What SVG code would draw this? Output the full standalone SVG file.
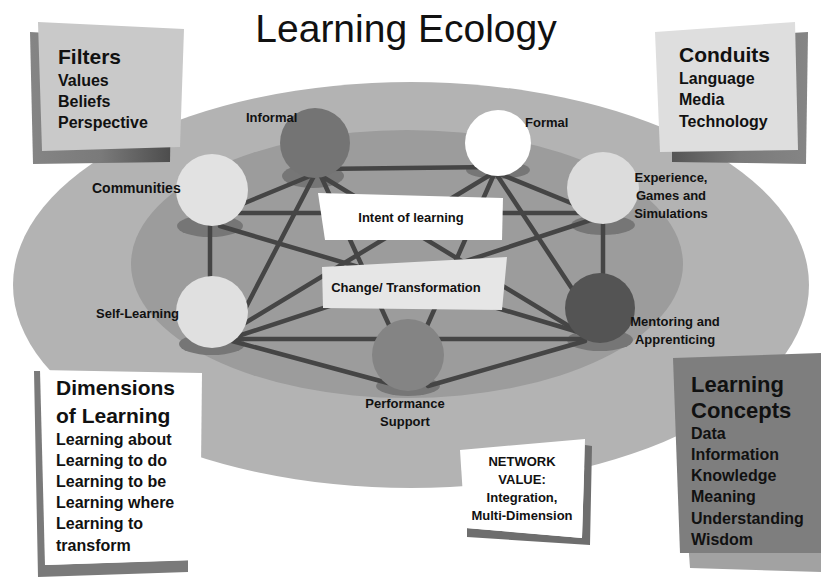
<svg xmlns="http://www.w3.org/2000/svg" width="821" height="577" viewBox="0 0 821 577">
<style>
text{font-family:"Liberation Sans",Arial,sans-serif;font-weight:bold;fill:#111}
.t13{font-size:13px}
.t16{font-size:16px}
.t21{font-size:21px}
.edge{stroke:#454545;stroke-width:4.5;stroke-linecap:round}
.shadow{fill:#767676}
.mid{text-anchor:middle}
</style>
<defs>
<linearGradient id="gf" x1="0" y1="0" x2="1" y2="0">
<stop offset="0" stop-color="#858585"/><stop offset="0.5" stop-color="#7a7a7a"/><stop offset="1" stop-color="#4c4c4c"/>
</linearGradient>
<linearGradient id="gc" x1="0" y1="0" x2="1" y2="0">
<stop offset="0" stop-color="#555555"/><stop offset="0.5" stop-color="#7a7a7a"/><stop offset="1" stop-color="#858585"/>
</linearGradient>
</defs>
<rect width="821" height="577" fill="#ffffff"/>
<g id="background">
<ellipse cx="411" cy="285" rx="398" ry="203" fill="#b3b3b3"/>
<ellipse cx="407" cy="264" rx="276" ry="134" fill="#9c9c9c"/>
</g>
<text x="406" y="42" text-anchor="middle" style="font-weight:normal;font-size:39px">Learning Ecology</text>
<g id="shadows">
<ellipse class="shadow" cx="313" cy="176" rx="31" ry="12"/>
<ellipse class="shadow" cx="498" cy="170" rx="32" ry="9"/>
<ellipse class="shadow" cx="210" cy="226" rx="33" ry="11"/>
<ellipse class="shadow" cx="603" cy="225" rx="32" ry="10"/>
<ellipse class="shadow" cx="212" cy="344" rx="33" ry="11"/>
<ellipse class="shadow" cx="600" cy="340" rx="33" ry="11"/>
<ellipse class="shadow" cx="408" cy="386" rx="32" ry="10"/>
</g>
<g id="connectors">
<line class="edge" x1="318" y1="169" x2="495" y2="167"/>
<line class="edge" x1="315" y1="174" x2="218" y2="214"/>
<line class="edge" x1="315" y1="174" x2="230" y2="338"/>
<line class="edge" x1="318" y1="174" x2="582" y2="334"/>
<line class="edge" x1="320" y1="174" x2="405" y2="360"/>
<line class="edge" x1="495" y1="172" x2="603" y2="216"/>
<line class="edge" x1="495" y1="172" x2="230" y2="332"/>
<line class="edge" x1="495" y1="172" x2="602" y2="334"/>
<line class="edge" x1="495" y1="172" x2="412" y2="360"/>
<line class="edge" x1="211" y1="213" x2="603" y2="213"/>
<line class="edge" x1="210" y1="214" x2="210" y2="320"/>
<line class="edge" x1="220" y1="226" x2="585" y2="334"/>
<line class="edge" x1="603" y1="216" x2="232" y2="338"/>
<line class="edge" x1="603" y1="214" x2="603" y2="320"/>
<line class="edge" x1="232" y1="339" x2="585" y2="339"/>
<line class="edge" x1="232" y1="341" x2="388" y2="383"/>
<line class="edge" x1="585" y1="341" x2="428" y2="386"/>
</g>
<g id="intent">
<polygon points="318,193 503,198 502,240 325,240" fill="#ffffff"/>
<text class="t13 mid" x="411" y="222">Intent of learning</text>
</g>
<g id="change">
<polygon points="322,267 507,257 502,310 323,308" fill="#e6e6e6"/>
<text class="t13 mid" x="406" y="292">Change/ Transformation</text>
</g>
<g id="informal">
<circle cx="315" cy="143" r="35" fill="#747474"/>
<text class="t13" x="246" y="122">Informal</text>
</g>
<g id="formal">
<circle cx="498" cy="143" r="33" fill="#ffffff"/>
<text class="t13" x="525" y="127">Formal</text>
</g>
<g id="communities">
<circle cx="212" cy="190" r="36" fill="#e2e2e2"/>
<text x="92" y="193" style="font-size:14px">Communities</text>
</g>
<g id="experience">
<circle cx="603" cy="188" r="36" fill="#dcdcdc"/>
<text class="t13 mid" x="671" y="182">Experience,</text>
<text class="t13 mid" x="671" y="200">Games and</text>
<text class="t13 mid" x="671" y="218">Simulations</text>
</g>
<g id="self-learning">
<circle cx="212" cy="312" r="36" fill="#e0e0e0"/>
<text class="t13" x="96" y="318">Self-Learning</text>
</g>
<g id="mentoring">
<circle cx="600" cy="308" r="35" fill="#545454"/>
<text class="t13 mid" x="675" y="326">Mentoring and</text>
<text class="t13 mid" x="675" y="344">Apprenticing</text>
</g>
<g id="performance">
<circle cx="408" cy="355" r="36" fill="#848484"/>
<text class="t13 mid" x="405" y="408">Performance</text>
<text class="t13 mid" x="405" y="426">Support</text>
</g>
<g id="filters">
<polygon points="30,32 172,40 170,162 33,164" fill="url(#gf)"/>
<polygon points="38,22 184,29 180,147 42,151" fill="#c9c9c9"/>
<text class="t21" x="58" y="64">Filters</text>
<text class="t16" x="58" y="86">Values</text>
<text class="t16" x="58" y="107">Beliefs</text>
<text class="t16" x="58" y="128">Perspective</text>
</g>
<g id="conduits">
<polygon points="672,40 808,32 806,164 672,162" fill="url(#gc)"/>
<polygon points="655,32 795,22 798,150 660,152" fill="#dedede"/>
<text class="t21" x="679" y="62">Conduits</text>
<text class="t16" x="679" y="84">Language</text>
<text class="t16" x="679" y="105">Media</text>
<text class="t16" x="679" y="127">Technology</text>
</g>
<g id="dimensions">
<polygon points="34,371 44,371 45,565 188,560 188,572 38,577" fill="#7a7a7a"/>
<polygon points="40,370 202,373 200,560 45,565" fill="#ffffff"/>
<text class="t21" x="56" y="395">Dimensions</text>
<text class="t21" x="56" y="423">of Learning</text>
<text class="t16" x="56" y="445">Learning about</text>
<text class="t16" x="56" y="466">Learning to do</text>
<text class="t16" x="56" y="487">Learning to be</text>
<text class="t16" x="56" y="508">Learning where</text>
<text class="t16" x="56" y="529">Learning to</text>
<text class="t16" x="56" y="551">transform</text>
</g>
<g id="network-value">
<polygon points="585,445 592,446 590,545 467,537 467,528 582,538" fill="#6e6e6e"/>
<polygon points="460,450 585,439 582,538 465,528" fill="#ffffff"/>
<text class="t13 mid" x="522" y="466">NETWORK</text>
<text class="t13 mid" x="522" y="484">VALUE:</text>
<text class="t13 mid" x="522" y="502">Integration,</text>
<text class="t13 mid" x="522" y="520">Multi-Dimension</text>
</g>
<g id="concepts">
<polygon points="688,540 821,540 821,572 690,568" fill="#a2a2a2"/>
<polygon points="673,358 821,353 821,553 680,553" fill="#7e7e7e"/>
<text x="691" y="392" style="font-size:22px">Learning</text>
<text x="691" y="418" style="font-size:22px">Concepts</text>
<text class="t16" x="691" y="439">Data</text>
<text class="t16" x="691" y="460">Information</text>
<text class="t16" x="691" y="481">Knowledge</text>
<text class="t16" x="691" y="502">Meaning</text>
<text class="t16" x="691" y="524">Understanding</text>
<text class="t16" x="691" y="545">Wisdom</text>
</g>
</svg>
